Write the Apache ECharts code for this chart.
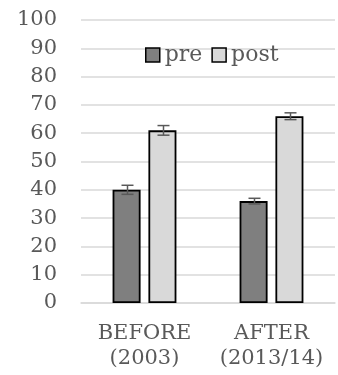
<!DOCTYPE html>
<html><head><meta charset="utf-8">
<script src="https://cdn.jsdelivr.net/npm/echarts@6/dist/echarts.min.js"></script>
<style>html,body{margin:0;padding:0;background:#fff}#c{width:338px;height:375px}</style>
</head><body><div id="c"></div>
<script>
var categories = ['BEFORE\n(2003)', 'AFTER\n(2013/14)'];
var preValues = [40, 36];
var postValues = [61, 66];
var preErrors = [1.6, 1];
var postErrors = [1.7, 1.2];
var yTicks = [0, 10, 20, 30, 40, 50, 60, 70, 80, 90, 100];

var FONT = 'DejaVu Serif';
var chart = echarts.init(document.getElementById('c'));

function errData(vals, errs) {
  return vals.map(function (v, i) { return [i, v - errs[i], v + errs[i]]; });
}
function errSeries(vals, errs, offset) {
  return {
    type: 'custom',
    silent: true,
    z: 5,
    renderItem: function (params, api) {
      var lo = api.coord([api.value(0), api.value(1)]);
      var hi = api.coord([api.value(0), api.value(2)]);
      var x = Math.round(lo[0] + offset) + 0.5;
      var hw = 6;
      var st = { stroke: '#595959', lineWidth: 1.5 };
      return { type: 'group', children: [
        { type: 'line', shape: { x1: x, y1: lo[1], x2: x, y2: hi[1] }, style: st },
        { type: 'line', shape: { x1: x - hw, y1: lo[1], x2: x + hw, y2: lo[1] }, style: st },
        { type: 'line', shape: { x1: x - hw, y1: hi[1], x2: x + hw, y2: hi[1] }, style: st }
      ]};
    },
    data: errData(vals, errs)
  };
}

chart.setOption({
  animation: false,
  textStyle: { fontFamily: FONT },
  grid: { left: 81, right: 3, top: 20, bottom: 72 },
  legend: {
    top: 39, left: 140,
    itemWidth: 14, itemHeight: 14, itemGap: 9,
    textStyle: { fontFamily: FONT, fontSize: 22, color: '#595959' },
    data: [
      { name: 'pre', icon: 'rect', itemStyle: { color: '#7f7f7f', borderColor: '#000', borderWidth: 1.5 } },
      { name: 'post', icon: 'rect', itemStyle: { color: '#d9d9d9', borderColor: '#000', borderWidth: 1.5 } }
    ]
  },
  xAxis: {
    type: 'category',
    data: categories,
    axisLine: { show: true, lineStyle: { color: '#d9d9d9', width: 1.5 } },
    axisTick: { show: false },
    axisLabel: { interval: 0, hideOverlap: false, fontFamily: FONT, fontSize: 21, color: '#595959', lineHeight: 25, margin: 18 }
  },
  yAxis: {
    type: 'value', min: 0, max: 100, interval: 10,
    axisLine: { show: false }, axisTick: { show: false },
    splitLine: { lineStyle: { color: '#d9d9d9', width: 1.5 } },
    axisLabel: { fontFamily: FONT, fontSize: 21, color: '#595959', margin: 24,
      formatter: function (v) { return yTicks.indexOf(v) >= 0 ? String(v) : ''; } }
  },
  series: [
    { name: 'pre', type: 'bar', data: preValues, barWidth: 28, barGap: '28%',
      itemStyle: { color: '#7f7f7f', borderColor: '#000', borderWidth: 1.8 } },
    { name: 'post', type: 'bar', data: postValues, barWidth: 28,
      itemStyle: { color: '#d9d9d9', borderColor: '#000', borderWidth: 1.8 } },
    errSeries(preValues, preErrors, -18),
    errSeries(postValues, postErrors, 18)
  ]
});
</script></body></html>
